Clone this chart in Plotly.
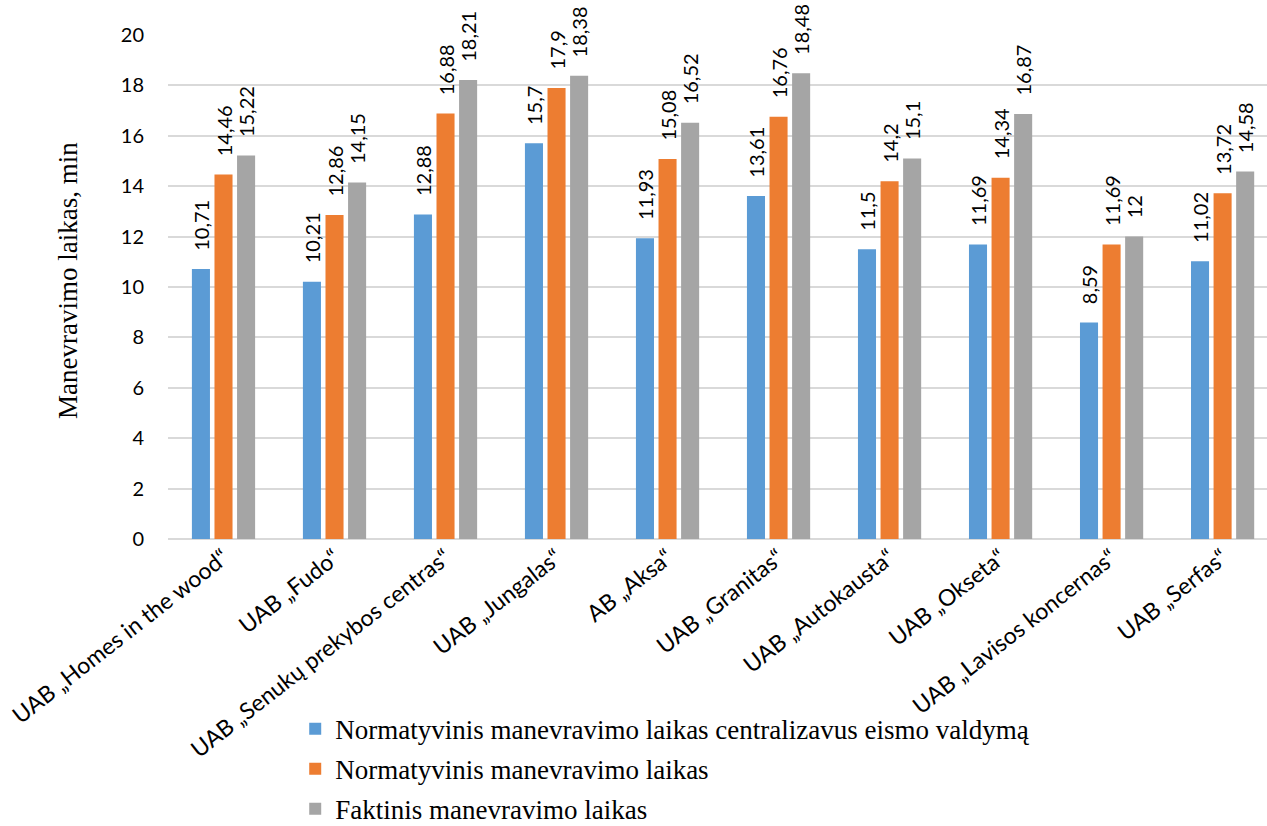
import plotly.graph_objects as go

categories = ['UAB „Homes in the wood“', 'UAB „Fudo“', 'UAB „Senukų prekybos centras“',
              'UAB „Jungalas“', 'AB „Aksa“', 'UAB „Granitas“', 'UAB „Autokausta“',
              'UAB „Okseta“', 'UAB „Lavisos koncernas“', 'UAB „Serfas“']
central = [10.71, 10.21, 12.88, 15.7, 11.93, 13.61, 11.5, 11.69, 8.59, 11.02]
normative = [14.46, 12.86, 16.88, 17.9, 15.08, 16.76, 14.2, 14.34, 11.69, 13.72]
actual = [15.22, 14.15, 18.21, 18.38, 16.52, 18.48, 15.1, 16.87, 12, 14.58]
series_names = ['Normatyvinis manevravimo laikas centralizavus eismo valdymą',
                'Normatyvinis manevravimo laikas',
                'Faktinis manevravimo laikas']
y_title = 'Manevravimo laikas, min'
colors = ['#5B9BD5', '#ED7D31', '#A5A5A5']

PAD = '\u00a0\u00a0\u00a0'

def lab(vals):
    return [PAD + str(v).replace('.', ',') for v in vals]

fig = go.Figure()
for i, (name, vals) in enumerate(zip(series_names, [central, normative, actual])):
    fig.add_trace(go.Bar(
        x=list(range(len(categories))), y=vals, name=name,
        marker=dict(color=colors[i], line=dict(width=0)),
        text=lab(vals), textposition='outside', textangle=-90,
        constraintext='none',
        textfont=dict(family='Lato, sans-serif', size=20, color='#000000'),
        cliponaxis=False, legendgroup=f'g{i}'))

fig.update_layout(
    width=1267, height=826,
    margin=dict(l=168, r=0, t=35, b=287, autoexpand=False),
    paper_bgcolor='white', plot_bgcolor='white',
    barmode='group', bargap=0.39, bargroupgap=0.2,
    showlegend=True,
    uniformtext=dict(mode=False),
    legend=dict(xref='container', yref='container', x=0.233, y=0.147,
                xanchor='left', yanchor='top',
                font=dict(family='Liberation Serif, serif', size=27, color='#000000'),
                tracegroupgap=2, bgcolor='rgba(0,0,0,0)'),
    xaxis=dict(tickmode='array', tickvals=list(range(len(categories))), ticktext=categories,
               range=[-0.5, 9.4], tickangle=-38, showgrid=False, showline=False, ticks='',
               automargin=False,
               tickfont=dict(family='Lato, sans-serif', size=23, color='#000000')),
    yaxis=dict(range=[0, 20], dtick=2, showgrid=True, gridcolor='#D9D9D9', gridwidth=1.5,
               zeroline=True, zerolinecolor='#D9D9D9', zerolinewidth=1.5,
               showline=False, ticks='', ticklabelstandoff=23, automargin=False,
               tickfont=dict(family='Lato, sans-serif', size=20, color='#000000')),
    annotations=[dict(text=y_title, xref='paper', yref='paper', x=-0.091, y=0.514,
                      xanchor='center', yanchor='middle', textangle=-90, showarrow=False,
                      font=dict(family='Liberation Serif, serif', size=27, color='#000000'))],
)

fig.write_html('out.html')
